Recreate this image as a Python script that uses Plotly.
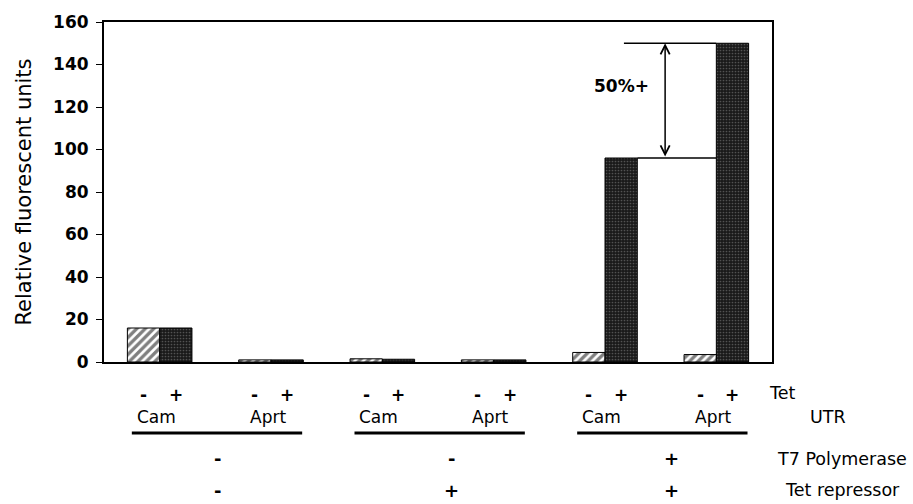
import plotly.graph_objects as go

# ---- data ----
utr_labels = ["Cam", "Aprt", "Cam", "Aprt", "Cam", "Aprt"]
tet_minus = [16, 1.0, 1.5, 1.0, 4.5, 3.5]
tet_plus = [16, 1.0, 1.3, 1.0, 96, 150]
t7_polymerase = ["-", "-", "+"]
tet_repressor = ["-", "+", "+"]
tet_signs = ["-", "+"]
row_names = ["Tet", "UTR", "T7 Polymerase", "Tet repressor"]
y_ticks = [0, 20, 40, 60, 80, 100, 120, 140, 160]
diff_label = "50%+"

FONT = "DejaVu Sans"
x = list(range(len(utr_labels)))
bargap = 0.42
bw = (1 - bargap) / 2  # width of one bar in category units

fig = go.Figure()
fig.add_trace(go.Bar(
    x=x, y=tet_minus, name="Tet -",
    marker=dict(color="white", line=dict(color="black", width=1),
                pattern=dict(shape="/", fgcolor="black", bgcolor="white", size=6, solidity=0.55)),
))
fig.add_trace(go.Bar(
    x=x, y=tet_plus, name="Tet +",
    marker=dict(color="#1a1a1a", line=dict(color="black", width=1),
                pattern=dict(shape=".", fgcolor="#8a8a8a", bgcolor="#1a1a1a", size=3, solidity=0.25)),
))

annotations = []
shapes = []

def py(pix):
    # paper y from pixel y (plot top 17, bottom 362)
    return (362 - pix) / 345.0

# Tet +/- row
for i in x:
    for k, s in enumerate(tet_signs):
        annotations.append(dict(x=i + (k - 0.5) * bw, y=py(395), xref="x", yref="paper",
                                yanchor="middle", text=s, showarrow=False,
                                font=dict(family=FONT, size=17, color="black", weight="bold")))
# UTR row
for i, lab in enumerate(utr_labels):
    annotations.append(dict(x=i - 0.03, y=py(418), xref="x", yref="paper", yanchor="middle", text=lab,
                            showarrow=False, font=dict(family=FONT, size=17, color="black")))
# underlines
for k in range(3):
    shapes.append(dict(type="line", xref="x", yref="paper", x0=2 * k - 0.25, x1=2 * k + 1 + 0.28,
                       y0=py(434), y1=py(434), line=dict(color="black", width=3)))
# T7 / Tet repressor rows
pair_x = [0.52, 2.62, 4.6]
for k in range(3):
    annotations.append(dict(x=pair_x[k], y=py(460), xref="x", yref="paper", yanchor="middle",
                            text=t7_polymerase[k], showarrow=False,
                            font=dict(family=FONT, size=18, color="black", weight="bold")))
    annotations.append(dict(x=pair_x[k], y=py(492), xref="x", yref="paper", yanchor="middle",
                            text=tet_repressor[k], showarrow=False,
                            font=dict(family=FONT, size=18, color="black", weight="bold")))
# row names
row_pos = [(767, 393), (808, 418), (775, 460), (783, 492)]
for name, (px, pyy) in zip(row_names, row_pos):
    annotations.append(dict(x=(px - 104) / 668.0, y=py(pyy), xref="paper", yref="paper",
                            xanchor="left", yanchor="middle", text=name, showarrow=False,
                            font=dict(family=FONT, size=17.5, color="black")))

# difference indicator
lo, hi = tet_plus[4], tet_plus[5]
shapes.append(dict(type="line", xref="x", yref="y", x0=4.17, x1=5, y0=hi, y1=hi,
                   line=dict(color="black", width=1.5), layer="below"))
shapes.append(dict(type="line", xref="x", yref="y", x0=4 + bw, x1=5, y0=lo, y1=lo,
                   line=dict(color="black", width=1.5), layer="below"))
annotations.append(dict(x=4.54, y=hi, ax=4.54, ay=lo, xref="x", yref="y", axref="x", ayref="y",
                        text="", showarrow=True, arrowhead=5, startarrowhead=5, arrowside="end+start",
                        arrowwidth=1.5, arrowsize=1.2, startarrowsize=1.2, arrowcolor="black",
                        standoff=0, startstandoff=0))
annotations.append(dict(x=4.15, y=130, xref="x", yref="y", yanchor="middle", text=diff_label,
                        showarrow=False, font=dict(family=FONT, size=17, color="black", weight="bold")))

fig.update_layout(
    width=913, height=504,
    margin=dict(l=104, r=141, t=17, b=142),
    plot_bgcolor="white", paper_bgcolor="white",
    barmode="group", bargap=bargap, bargroupgap=0,
    showlegend=False,
    annotations=annotations, shapes=shapes,
    xaxis=dict(range=[-0.5, 5.5], showticklabels=False, ticks="", showgrid=False, zeroline=False,
               showline=True, linecolor="black", linewidth=2, mirror=True),
    yaxis=dict(range=[0, 160], tickvals=y_ticks, ticks="outside", ticklen=6, tickcolor="black",
               ticklabelstandoff=4,
               showgrid=False, zeroline=False, showline=True, linecolor="black", linewidth=2, mirror=True,
               tickfont=dict(family=FONT, size=17, color="black", weight="bold"),
               title=dict(text="Relative fluorescent units", font=dict(family=FONT, size=21, color="black"),
                          standoff=16)),
)

fig.write_html("out.html", config={"displayModeBar": False},
               post_script="document.body.style.margin='0';")
